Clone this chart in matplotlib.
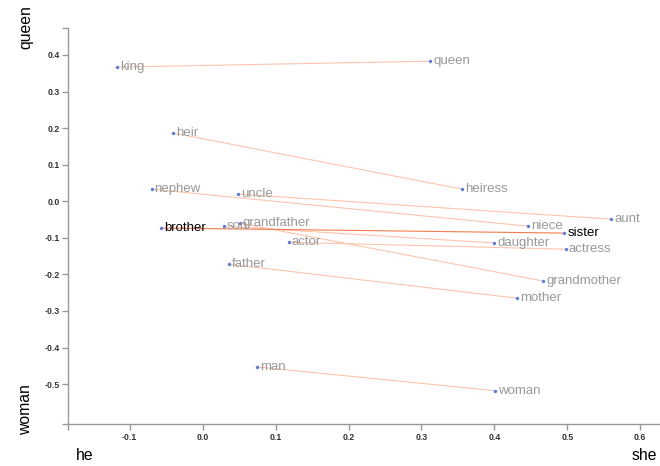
import matplotlib
matplotlib.use("Agg")
import matplotlib.pyplot as plt
from matplotlib.ticker import FixedLocator, FuncFormatter

plt.rcParams['font.family'] = ['Liberation Sans', 'DejaVu Sans']

# --- data ---
male_words = ["king", "heir", "nephew", "uncle", "brother", "son",
              "grandfather", "actor", "father", "man"]
male_x = [-0.118, -0.041, -0.070, 0.048, -0.057, 0.029, 0.051, 0.118, 0.036, 0.075]
male_y = [0.367, 0.187, 0.033, 0.020, -0.073, -0.068, -0.060, -0.112, -0.172, -0.453]

female_words = ["queen", "heiress", "niece", "aunt", "sister", "daughter",
                "grandmother", "actress", "mother", "woman"]
female_x = [0.312, 0.356, 0.446, 0.560, 0.496, 0.400, 0.467, 0.498, 0.431, 0.401]
female_y = [0.383, 0.033, -0.068, -0.049, -0.087, -0.114, -0.218, -0.131, -0.265, -0.518]

highlight = {"brother", "sister"}

x_ticks = [-0.1, 0.0, 0.1, 0.2, 0.3, 0.4, 0.5, 0.6]
y_ticks = [-0.5, -0.4, -0.3, -0.2, -0.1, 0.0, 0.1, 0.2, 0.3, 0.4]
x_lim = (-0.185, 0.627)
y_lim = (-0.609, 0.473)

# --- figure ---
W, H = 660, 466
fig = plt.figure(figsize=(W / 100, H / 100), dpi=100)
ax = fig.add_axes([67.7 / W, (H - 424) / H, 1 - 67.7 / W, (424 - 28.3) / H])
ax.set_xlim(*x_lim)
ax.set_ylim(*y_lim)

line_c = "#fdc4ad"
hl_line_c = "#f37c4c"
dot_c = "#5b7fd6"

for i in range(len(male_words)):
    hl = male_words[i] in highlight
    ax.plot([male_x[i], female_x[i]], [male_y[i], female_y[i]],
            color=hl_line_c if hl else line_c, lw=0.8,
            zorder=3 if hl else 2, solid_capstyle='butt')

all_words = male_words + female_words
all_x = male_x + female_x
all_y = male_y + female_y
ax.scatter(all_x, all_y, s=6, color=dot_c, zorder=4, linewidths=0)

for w, x, y in zip(all_words, all_x, all_y):
    ax.annotate(w, (x, y), xytext=(2.2, 0), textcoords='offset points',
                ha='left', va='center', fontsize=9.5,
                color='black' if w in highlight else '#999999', zorder=5)

# axes styling
for s in ['top', 'right']:
    ax.spines[s].set_visible(False)
for s in ['left', 'bottom']:
    ax.spines[s].set_color('#9a9a9a')
    ax.spines[s].set_linewidth(1.0)

ax.xaxis.set_major_locator(FixedLocator(x_ticks))
ax.yaxis.set_major_locator(FixedLocator(y_ticks))
fmt = FuncFormatter(lambda v, p: f"{round(v, 1):.1f}".replace("-0.0", "0.0"))
ax.xaxis.set_major_formatter(fmt)
ax.yaxis.set_major_formatter(fmt)
ax.xaxis.set_minor_locator(FixedLocator([x_lim[0]]))
ax.yaxis.set_minor_locator(FixedLocator([y_lim[0], y_lim[1]]))
ax.tick_params(which='major', direction='out', length=4.3, width=1.0,
               color='#9a9a9a', labelsize=6.3, labelcolor='#333333')
ax.tick_params(axis='x', which='major', pad=2.5)
ax.tick_params(axis='y', which='major', pad=1.5)
ax.tick_params(which='minor', direction='out', length=4.3, width=1.0,
               color='#9a9a9a', labelbottom=False, labelleft=False)
for lab in ax.get_xticklabels() + ax.get_yticklabels():
    lab.set_fontweight('bold')

# corner labels
def px(x, y):
    return x / W, 1 - y / H

fig.text(*px(26, 27), "queen", rotation=90, ha='center', va='center', fontsize=11.3)
fig.text(*px(26, 410), "woman", rotation=90, ha='center', va='center', fontsize=11.3)
fig.text(*px(85, 455), "he", ha='center', va='center', fontsize=11.3)
fig.text(*px(644, 455), "she", ha='center', va='center', fontsize=11.3)

fig.savefig("out.png", dpi=100)
